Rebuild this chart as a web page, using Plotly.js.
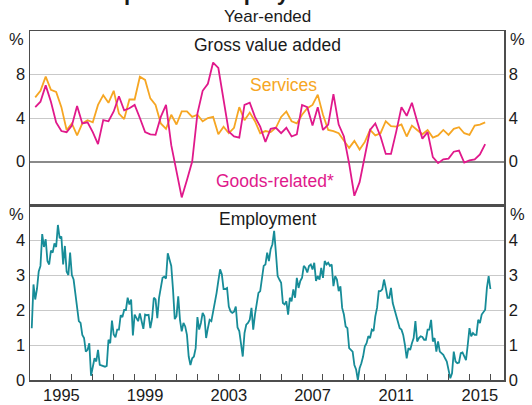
<!DOCTYPE html>
<html>
<head>
<meta charset="utf-8">
<script src="https://cdn.plot.ly/plotly-3.0.1.min.js"></script>
<style>
html,body{margin:0;padding:0;background:#ffffff;}
#chart{width:532px;height:405px;}
</style>
</head>
<body>
<div id="chart"></div>
<script>
// ---- Data (year-ended growth, %) ----
// Gross value added, quarterly, Mar quarter 1994 .. Sep quarter 2015
const gvaFirstQuarterEnd = 1994.25;
const services = [
  5.9, 6.5, 7.8, 6.6, 6.4, 5.0, 2.9, 3.5, 2.4, 3.5,
  3.8, 3.6, 5.2, 6.1, 5.4, 6.5, 4.4, 3.9, 5.7, 5.7,
  7.8, 7.5, 5.8, 5.2, 3.5, 3.0, 4.3, 3.4, 4.6, 4.6,
  4.1, 4.3, 3.7, 4.0, 4.1, 2.5, 3.2, 2.6, 3.1, 5.0,
  3.8, 4.5, 3.7, 2.6, 2.8, 2.7, 3.1, 4.1, 4.6, 3.7,
  3.5, 4.3, 4.9, 5.2, 6.15, 4.3, 2.9, 2.8, 2.6, 1.9,
  1.25, 1.9, 1.1, 1.8, 2.9, 2.4, 2.6, 3.7, 3.25, 3.2,
  3.4, 2.3, 3.3, 2.9, 2.5, 2.9, 2.2, 2.4, 2.9, 2.45,
  3.0, 3.15, 2.6, 2.45, 3.3, 3.4, 3.6
];
const goodsRelated = [
  5.0, 5.5, 7.0, 5.5, 3.6, 2.8, 2.7, 3.3, 5.1, 3.5,
  3.6, 2.7, 1.6, 3.8, 3.7, 4.6, 6.0, 4.7, 4.9, 5.2,
  4.0, 2.7, 2.5, 2.45, 4.1, 5.2, 1.5, -1.0, -3.3, -1.7,
  0.0, 4.4, 6.5, 7.15, 9.1, 8.6, 5.6, 2.75, 2.3, 2.2,
  5.2, 5.4, 4.1, 3.2, 1.8, 3.0, 3.1, 2.6, 3.1, 2.3,
  2.5, 5.2, 5.0, 3.3, 5.0, 2.9, 3.4, 6.2, 3.4, 2.3,
  -0.2, -3.15, -1.9, 0.6, 2.9, 3.5, 2.3, 0.7, 0.7, 2.75,
  5.0, 4.2, 5.4, 3.7, 2.1, 2.7, 0.4, -0.15, 0.2, 0.27,
  0.9, 1.0, -0.1, 0.1, 0.2, 0.65, 1.6
];
// Employment, monthly, Jan 1994 .. Dec 2015
const empFirstYear = 1994;
const employment = [
  1.48, 2.73, 2.3, 2.6, 3.1, 3.26, 4.17, 3.8, 4.02, 3.4,
  3.3, 3.7, 3.64, 3.9, 3.8, 4.43, 4.05, 4.1, 3.3, 3.83,
  3.1, 3.0, 3.64, 3.0, 2.87, 2.45, 2.1, 1.68, 1.63, 1.29,
  1.2, 0.81, 0.86, 1.05, 0.12, 0.34, 0.62, 0.53, 0.86, 0.43,
  0.42, 0.4, 0.38, 0.4, 1.15, 1.05, 1.7, 1.3, 1.22, 1.44,
  1.44, 1.85, 1.8, 2.0, 2.0, 2.35, 2.16, 2.3, 1.27, 1.87,
  1.77, 1.68, 1.9, 1.63, 1.46, 1.87, 1.85, 1.86, 1.48, 1.75,
  2.35, 2.3, 1.77, 2.35, 2.6, 2.92, 2.95, 2.9, 3.62, 3.45,
  3.26, 2.59, 1.74, 1.82, 2.39, 1.72, 1.39, 1.63, 1.53, 1.29,
  0.67, 0.43, 0.62, 0.67, 0.91, 1.8, 1.44, 1.63, 1.92, 1.82,
  1.2, 1.48, 1.72, 1.68, 1.92, 2.2, 2.49, 2.83, 3.16, 3.02,
  2.6, 2.6, 2.63, 2.1, 1.96, 1.92, 1.95, 2.1, 1.5, 1.4,
  1.0, 0.67, 1.34, 1.58, 1.63, 1.72, 2.06, 1.44, 1.87, 2.25,
  2.49, 2.54, 2.9, 3.26, 3.3, 3.64, 3.4, 3.74, 3.88, 4.26,
  3.64, 2.97, 2.87, 2.78, 2.2, 2.16, 2.25, 1.87, 2.35, 2.25,
  2.59, 2.35, 2.92, 2.63, 2.83, 2.92, 3.26, 3.2, 3.07, 3.26,
  3.3, 3.16, 3.35, 2.83, 2.97, 2.87, 3.2, 2.92, 3.4, 3.3,
  3.35, 3.26, 3.3, 2.68, 2.97, 2.87, 2.54, 2.68, 2.06, 1.87,
  1.53, 1.48, 0.91, 0.86, 0.81, 0.43, 0.3, 0.0, 0.34, 0.48,
  0.67, 0.96, 1.05, 1.25, 1.2, 1.44, 1.4, 1.82, 2.06, 2.54,
  2.54, 2.59, 2.87, 2.63, 2.35, 2.35, 2.63, 2.2, 2.01, 1.82,
  1.63, 1.48, 1.44, 1.29, 1.0, 0.62, 0.91, 0.86, 1.05, 1.2,
  1.68, 1.1, 1.2, 1.25, 1.23, 1.15, 1.15, 1.44, 1.44, 1.72,
  1.1, 1.2, 0.81, 1.1, 0.81, 0.77, 0.72, 0.62, 0.53, 0.29,
  0.05, 0.19, 0.81, 0.53, 0.48, 0.5, 0.77, 0.79, 0.67, 0.57,
  1.0, 1.48, 1.25, 1.34, 1.29, 1.29, 1.72, 1.63, 1.87, 1.96,
  2.01, 2.63, 2.97, 2.6
];
const yearLabels = [1995, 1999, 2003, 2007, 2011, 2015];
const topTicks = [0, 4, 8];
const bottomTicks = [0, 1, 2, 3, 4];

// ---- x positions derived from periods ----
const xQuarter = services.map((_, i) => gvaFirstQuarterEnd + 0.25 * i);
const xMonth = employment.map((_, j) => empFirstYear + (j + 1) / 12);

const cServices = '#F6A623';
const cGoods = '#E0198B';
const cEmp = '#178C98';
const axisCol = '#4d4d4d';
const gridCol = '#c9c9c9';
const FONT = 'Liberation Sans, Arial, Helvetica, sans-serif';
const txt = '#1a1a1a';

const traces = [
  {x: xQuarter, y: services, xaxis: 'x2', yaxis: 'y', mode: 'lines',
   line: {color: cServices, width: 1.8}, hoverinfo: 'skip', name: 'Services'},
  {x: xQuarter, y: goodsRelated, xaxis: 'x2', yaxis: 'y', mode: 'lines',
   line: {color: cGoods, width: 1.8}, hoverinfo: 'skip', name: 'Goods-related*'},
  {x: xMonth, y: employment, xaxis: 'x', yaxis: 'y2', mode: 'lines',
   line: {color: cEmp, width: 1.8}, hoverinfo: 'skip', name: 'Employment'},
  // helpers so the right-hand axes are registered
  {x: [], y: [], xaxis: 'x2', yaxis: 'y3', mode: 'lines', hoverinfo: 'skip', showlegend: false},
  {x: [], y: [], xaxis: 'x', yaxis: 'y4', mode: 'lines', hoverinfo: 'skip', showlegend: false}
];

const split = 175 / 349;
const xRange = [1994.0, 2016.65];

const layout = {
  width: 532, height: 405,
  margin: {l: 30, r: 28, t: 31, b: 25, pad: 0},
  paper_bgcolor: '#ffffff', plot_bgcolor: '#ffffff',
  showlegend: false,
  font: {family: FONT, size: 16, color: txt},
  xaxis: {
    domain: [0, 1], anchor: 'y2', range: xRange, fixedrange: true,
    tickmode: 'array', tickvals: yearLabels.map(y => y + 0.5), ticktext: yearLabels.map(String),
    ticks: 'inside', ticklen: 0, tickfont: {size: 16.5, color: txt},
    showgrid: false, zeroline: false,
    showline: true, linecolor: axisCol, linewidth: 1.5, mirror: true,
    minor: {tickmode: 'linear', tick0: 1995, dtick: 1, ticks: 'inside', ticklen: 6,
            tickcolor: axisCol, tickwidth: 1, showgrid: false}
  },
  xaxis2: {
    domain: [0, 1], anchor: 'y', range: xRange, matches: 'x', fixedrange: true,
    showticklabels: false, ticks: '', showgrid: false, zeroline: false,
    showline: true, linecolor: axisCol, linewidth: 1.5, mirror: true
  },
  yaxis: {
    domain: [split, 1], anchor: 'x2', range: [-4, 12], fixedrange: true,
    tickmode: 'array', tickvals: topTicks, ticks: '', tickfont: {size: 16.5, color: txt},
    showgrid: true, gridcolor: gridCol, gridwidth: 1,
    zeroline: true, zerolinecolor: '#8a8a8a', zerolinewidth: 2,
    showline: true, linecolor: axisCol, linewidth: 1.5
  },
  yaxis3: {
    overlaying: 'y', side: 'right', anchor: 'x2', range: [-4, 12], fixedrange: true,
    tickmode: 'array', tickvals: topTicks, ticks: '', tickfont: {size: 16.5, color: txt},
    showgrid: false, zeroline: false, showline: true, linecolor: axisCol, linewidth: 1.5
  },
  yaxis2: {
    domain: [0, split], anchor: 'x', range: [0, 5], fixedrange: true,
    tickmode: 'array', tickvals: bottomTicks, ticks: '', tickfont: {size: 16.5, color: txt},
    showgrid: true, gridcolor: gridCol, gridwidth: 1, zeroline: false,
    showline: true, linecolor: axisCol, linewidth: 1.5
  },
  yaxis4: {
    overlaying: 'y2', side: 'right', anchor: 'x', range: [0, 5], fixedrange: true,
    tickmode: 'array', tickvals: bottomTicks, ticks: '', tickfont: {size: 16.5, color: txt},
    showgrid: false, zeroline: false, showline: true, linecolor: axisCol, linewidth: 1.5
  },
  annotations: [
    {text: '<b>Output and Employment Growth</b>', xref: 'paper', yref: 'paper', x: 0.476, y: 1.109,
     xanchor: 'center', yanchor: 'middle', showarrow: false, font: {size: 22, color: txt}},
    {text: 'Year-ended', xref: 'paper', yref: 'paper', x: 0.5, y: 1.041,
     xanchor: 'center', yanchor: 'middle', showarrow: false, font: {size: 17, color: txt}},
    {text: 'Gross value added', xref: 'paper', yref: 'paper', x: 0.5, y: (380 - 45) / 349,
     xanchor: 'center', yanchor: 'middle', showarrow: false, font: {size: 17.5, color: txt}},
    {text: 'Employment', xref: 'paper', yref: 'paper', x: 0.5, y: (380 - 219) / 349,
     xanchor: 'center', yanchor: 'middle', showarrow: false, font: {size: 17.5, color: txt}},
    {text: 'Services', xref: 'x2', yref: 'y', x: 2006.1, y: 7.0,
     xanchor: 'center', yanchor: 'middle', showarrow: false, font: {size: 17.5, color: cServices}},
    {text: 'Goods-related*', xref: 'x2', yref: 'y', x: 2005.7, y: -1.8,
     xanchor: 'center', yanchor: 'middle', showarrow: false, font: {size: 17.5, color: cGoods}},
    {text: '%', xref: 'paper', yref: 'paper', x: 0, y: (380 - 39) / 349, xshift: -4,
     xanchor: 'right', yanchor: 'middle', showarrow: false, font: {size: 16.5, color: txt}},
    {text: '%', xref: 'paper', yref: 'paper', x: 1, y: (380 - 39) / 349, xshift: 4,
     xanchor: 'left', yanchor: 'middle', showarrow: false, font: {size: 16.5, color: txt}},
    {text: '%', xref: 'paper', yref: 'paper', x: 0, y: (380 - 214) / 349, xshift: -4,
     xanchor: 'right', yanchor: 'middle', showarrow: false, font: {size: 16.5, color: txt}},
    {text: '%', xref: 'paper', yref: 'paper', x: 1, y: (380 - 214) / 349, xshift: 4,
     xanchor: 'left', yanchor: 'middle', showarrow: false, font: {size: 16.5, color: txt}}
  ]
};

Plotly.newPlot('chart', traces, layout, {staticPlot: true, displayModeBar: false});
</script>
</body>
</html>
